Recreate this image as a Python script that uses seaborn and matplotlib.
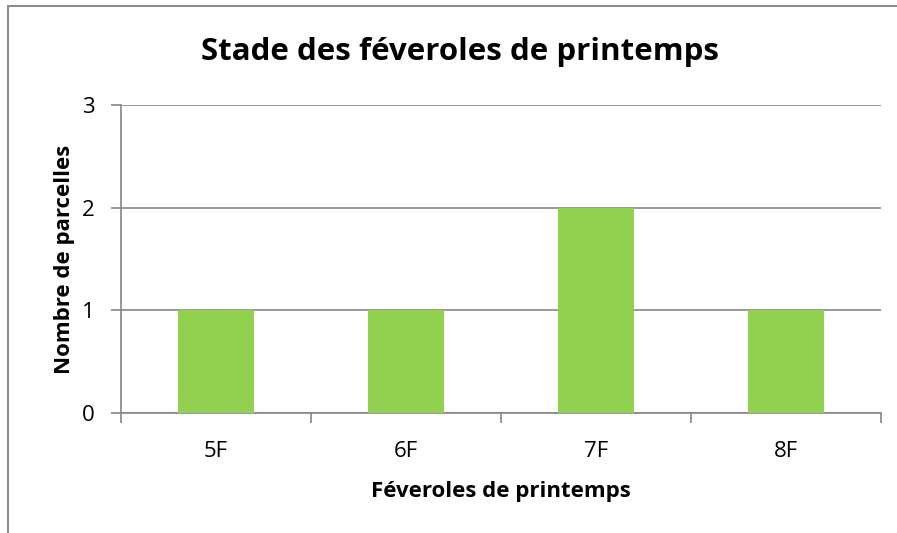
import seaborn as sns
import matplotlib.pyplot as plt
import pandas as pd

# data -----------------------
stades = ["5F", "6F", "7F", "8F"]
nb_parcelles = [1, 1, 2, 1]

df = pd.DataFrame({"stade": stades, "nb": nb_parcelles})

sns.set_style("white")
plt.rcParams['font.family'] = ['Open Sans', 'DejaVu Sans']
plt.rcParams['text.color'] = 'black'
plt.rcParams['xtick.color'] = 'black'
plt.rcParams['ytick.color'] = 'black'
plt.rcParams['axes.labelcolor'] = 'black'

grid_col = "#868686"

fig = plt.figure(figsize=(8.97, 5.33), dpi=100)
ax = fig.add_axes([121/897, 1 - 413/533, 760/897, 308/533])

sns.barplot(data=df, x="stade", y="nb", color="#92D050", width=0.4,
            saturation=1, linewidth=0, ax=ax, zorder=3)

ax.set_ylim(0, 3)
ax.set_xlim(-0.5, 3.5)
ax.set_yticks([0, 1, 2, 3])
ax.yaxis.grid(True, color=grid_col, linewidth=1.2, zorder=0)
ax.set_axisbelow(True)

# x ticks at category boundaries, labels centred
ax.set_xticks([-0.5, 0.5, 1.5, 2.5, 3.5])
ax.set_xticklabels([])
ax.set_xticks(range(len(stades)), minor=True)
ax.set_xticklabels(stades, minor=True)
ax.tick_params(axis="x", which="major", direction="out", length=7, width=1.2,
               color=grid_col, bottom=True)
ax.tick_params(axis="x", which="minor", length=0, pad=20, labelsize=16)
ax.tick_params(axis="y", direction="out", length=7, width=1.2, color=grid_col,
               left=True, labelsize=16, pad=12)

for s in ["top", "right"]:
    ax.spines[s].set_visible(False)
for s in ["left", "bottom"]:
    ax.spines[s].set_color(grid_col)
    ax.spines[s].set_linewidth(1.2)

ax.set_xlabel("Féveroles de printemps", fontsize=16, fontweight="bold", labelpad=14)
ax.set_ylabel("Nombre de parcelles", fontsize=16, fontweight="bold", labelpad=5)
fig.text(460/897, 1 - 52/533, "Stade des féveroles de printemps", ha="center",
         va="center", fontsize=22.5, fontweight="bold")

# chart border (left and top visible)
fig.add_artist(plt.Line2D([8/897, 8/897], [0, 1 - 6/533], color="#8c8c8c", lw=1.5))
fig.add_artist(plt.Line2D([8/897, 1], [1 - 6/533, 1 - 6/533], color="#8c8c8c", lw=1.5))

fig.savefig("out.png", dpi=100)
